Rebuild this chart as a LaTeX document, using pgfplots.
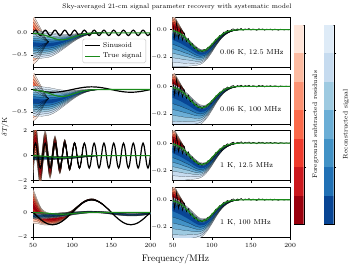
\documentclass[border=0pt]{standalone}
\usepackage{pgfplots}
\pgfplotsset{compat=1.18}
\usepackage{pgfplotstable}
\usepgfplotslibrary{fillbetween}

\definecolor{R1}{HTML}{FEE5D9}\definecolor{R2}{HTML}{FCBBA1}\definecolor{R3}{HTML}{FC9272}
\definecolor{R4}{HTML}{FB6A4A}\definecolor{R5}{HTML}{EF3B2C}\definecolor{R6}{HTML}{CB181D}
\definecolor{R7}{HTML}{99000D}
\definecolor{B1}{HTML}{DEEBF7}\definecolor{B2}{HTML}{C6DBEF}\definecolor{B3}{HTML}{9ECAE1}
\definecolor{B4}{HTML}{6BAED6}\definecolor{B5}{HTML}{4292C6}\definecolor{B6}{HTML}{2171B5}
\definecolor{B7}{HTML}{084594}
\definecolor{TG}{HTML}{1A8A1A}

% true signal g and residual r (right panels)
\pgfplotstableread{
f g r
50 -0.0074 0.053
52.5 -0.0110 -0.061
55 -0.0159 0.054
57.5 -0.0224 -0.062
60 -0.0307 -0.001
62.5 -0.0408 -0.076
65 -0.0529 -0.028
67.5 -0.0666 -0.087
70 -0.0815 -0.064
72.5 -0.0972 -0.112
75 -0.1125 -0.101
77.5 -0.1268 -0.137
80 -0.1390 -0.129
82.5 -0.1482 -0.156
85 -0.1536 -0.147
87.5 -0.1550 -0.161
90 -0.1519 -0.144
92.5 -0.1449 -0.150
95 -0.1344 -0.128
97.5 -0.1213 -0.128
100 -0.1065 -0.102
102.5 -0.0909 -0.095
105 -0.0755 -0.069
107.5 -0.0609 -0.066
110 -0.0478 -0.042
112.5 -0.0366 -0.041
115 -0.0272 -0.019
117.5 -0.0196 -0.017
120 -0.0138 -0.005
122.5 -0.0094 -0.013
125 -0.0063 0.001
127.5 -0.0040 0.006
130 -0.0025 -0.006
132.5 -0.0016 0.006
135 -0.0009 0.001
137.5 -0.0005 0.009
140 -0.0003 -0.004
142.5 0 0.006
145 0 0.001
147.5 0 0.008
150 0 -0.003
152.5 0 0.005
155 0 0.002
157.5 0 -0.005
160 0 0.007
162.5 0 0.001
165 0 0.006
167.5 0 -0.004
170 0 0.004
172.5 0 0.000
175 0 0.005
177.5 0 -0.003
180 0 0.004
182.5 0 0.002
185 0 -0.004
187.5 0 0.003
190 0 0.001
192.5 0 -0.002
195 0 0.002
197.5 0 -0.001
200 0 0.001
}\tabN

% sinusoid, period 12.5 MHz: a = 1 K, b = 0.06 K
\pgfplotstableread{
f a b
50 0 0
51.5625 0.7071 0.0424
53.125 1 0.06
54.6875 0.7071 0.0424
56.25 0 0
57.8125 -0.7071 -0.0424
59.375 -1 -0.06
60.9375 -0.7071 -0.0424
62.5 0 0
64.0625 0.7071 0.0424
65.625 1 0.06
67.1875 0.7071 0.0424
68.75 0 0
70.3125 -0.7071 -0.0424
71.875 -1 -0.06
73.4375 -0.7071 -0.0424
75 0 0
76.5625 0.7071 0.0424
78.125 1 0.06
79.6875 0.7071 0.0424
81.25 0 0
82.8125 -0.7071 -0.0424
84.375 -1 -0.06
85.9375 -0.7071 -0.0424
87.5 0 0
89.0625 0.7071 0.0424
90.625 1 0.06
92.1875 0.7071 0.0424
93.75 0 0
95.3125 -0.7071 -0.0424
96.875 -1 -0.06
98.4375 -0.7071 -0.0424
100 0 0
101.5625 0.7071 0.0424
103.125 1 0.06
104.6875 0.7071 0.0424
106.25 0 0
107.8125 -0.7071 -0.0424
109.375 -1 -0.06
110.9375 -0.7071 -0.0424
112.5 0 0
114.0625 0.7071 0.0424
115.625 1 0.06
117.1875 0.7071 0.0424
118.75 0 0
120.3125 -0.7071 -0.0424
121.875 -1 -0.06
123.4375 -0.7071 -0.0424
125 0 0
126.5625 0.7071 0.0424
128.125 1 0.06
129.6875 0.7071 0.0424
131.25 0 0
132.8125 -0.7071 -0.0424
134.375 -1 -0.06
135.9375 -0.7071 -0.0424
137.5 0 0
139.0625 0.7071 0.0424
140.625 1 0.06
142.1875 0.7071 0.0424
143.75 0 0
145.3125 -0.7071 -0.0424
146.875 -1 -0.06
148.4375 -0.7071 -0.0424
150 0 0
151.5625 0.7071 0.0424
153.125 1 0.06
154.6875 0.7071 0.0424
156.25 0 0
157.8125 -0.7071 -0.0424
159.375 -1 -0.06
160.9375 -0.7071 -0.0424
162.5 0 0
164.0625 0.7071 0.0424
165.625 1 0.06
167.1875 0.7071 0.0424
168.75 0 0
170.3125 -0.7071 -0.0424
171.875 -1 -0.06
173.4375 -0.7071 -0.0424
175 0 0
176.5625 0.7071 0.0424
178.125 1 0.06
179.6875 0.7071 0.0424
181.25 0 0
182.8125 -0.7071 -0.0424
184.375 -1 -0.06
185.9375 -0.7071 -0.0424
187.5 0 0
189.0625 0.7071 0.0424
190.625 1 0.06
192.1875 0.7071 0.0424
193.75 0 0
195.3125 -0.7071 -0.0424
196.875 -1 -0.06
198.4375 -0.7071 -0.0424
200 0 0
}\tabS

% sinusoid, period 100 MHz: a = 1 K, b = 0.06 K
\pgfplotstableread{
f a b
50 0 0
55 -0.309 -0.0185
60 -0.588 -0.0353
65 -0.809 -0.0485
70 -0.951 -0.0571
75 -1 -0.06
80 -0.951 -0.0571
85 -0.809 -0.0485
90 -0.588 -0.0353
95 -0.309 -0.0185
100 0 0
105 0.309 0.0185
110 0.588 0.0353
115 0.809 0.0485
120 0.951 0.0571
125 1 0.06
130 0.951 0.0571
135 0.809 0.0485
140 0.588 0.0353
145 0.309 0.0185
150 0 0
155 -0.309 -0.0185
160 -0.588 -0.0353
165 -0.809 -0.0485
170 -0.951 -0.0571
175 -1 -0.06
180 -0.951 -0.0571
185 -0.809 -0.0485
190 -0.588 -0.0353
195 -0.309 -0.0185
200 0 0
}\tabH

% contour centres c and outer half-widths (w, or u above / l below)
\pgfplotstableread{
f c w
50 -0.15 0.55
52.5 -0.17 0.5
55 -0.19 0.44
57.5 -0.2 0.37
60 -0.2 0.29
62.5 -0.2 0.2
65 -0.2 0.12
67.5 -0.2 0.05
70 -0.2 0.0
}\tabRL
\pgfplotstableread{
f c w
50 -0.25 0.30
55 -0.26 0.305
60 -0.265 0.30
65 -0.265 0.29
70 -0.262 0.28
75 -0.255 0.255
80 -0.238 0.225
85 -0.215 0.19
90 -0.187 0.155
95 -0.155 0.125
100 -0.122 0.095
105 -0.09 0.07
110 -0.062 0.05
115 -0.04 0.033
120 -0.023 0.02
125 -0.012 0.011
130 -0.005 0.005
135 -0.002 0.002
140 0 0
}\tabBL
\pgfplotstableread{
f c w
50 0 1.6
51.5625 0.919 1.5
53.125 1.3 1.4
54.6875 0.919 1.3
56.25 0 1.2
57.8125 -0.919 1.14
59.375 -1.3 1.07
60.9375 -0.919 0.98
62.5 0 0.9
64.0625 0.849 0.86
65.625 1.2 0.82
67.1875 0.849 0.78
68.75 0 0.73
70.3125 -0.849 0.69
71.875 -1.2 0.65
73.4375 -0.849 0.6
75 0 0.57
76.5625 0.778 0.53
78.125 1.1 0.5
79.6875 0.778 0.47
81.25 0 0.44
82.8125 -0.778 0.41
84.375 -1.1 0.38
85.9375 -0.778 0.35
87.5 0 0.32
89.0625 0.742 0.3
90.625 1.05 0.27
92.1875 0.742 0.25
93.75 0 0.23
95.3125 -0.742 0.2
96.875 -1.05 0.18
98.4375 -0.742 0.16
100 0 0.14
101.5625 0.707 0.12
103.125 1 0.1
104.6875 0.707 0.09
106.25 0 0.07
107.8125 -0.707 0.06
109.375 -1 0.045
110.9375 -0.707 0.035
112.5 0 0.02
114.0625 0.707 0.01
115.625 1 0
}\tabRT
\pgfplotstableread{
f c w
50 -0.2 0.16
60 -0.2 0.15
70 -0.2 0.14
80 -0.19 0.13
90 -0.17 0.12
100 -0.14 0.1
110 -0.1 0.07
120 -0.05 0.04
130 -0.02 0.015
140 0 0
}\tabBT
\pgfplotstableread{
f c w
50 0.5 1.4
52.5 0.3 1.2
55 0.1 1.0
57.5 -0.1 0.82
60 -0.3 0.68
62.5 -0.4 0.6
65 -0.48 0.55
67.5 -0.52 0.5
70 -0.55 0.48
72.5 -0.56 0.47
75 -0.56 0.46
77.5 -0.55 0.45
80 -0.52 0.44
82.5 -0.48 0.42
85 -0.43 0.4
87.5 -0.38 0.36
90 -0.32 0.3
92.5 -0.25 0.24
95 -0.17 0.2
97.5 -0.08 0.16
100 0.03 0.13
102.5 0.17 0.11
105 0.32 0.09
107.5 0.46 0.08
110 0.6 0.07
112.5 0.73 0.06
115 0.84 0.06
117.5 0.92 0.06
120 0.98 0.06
122.5 1.02 0.06
125 1.03 0.06
127.5 1.02 0.06
130 0.97 0.05
132.5 0.9 0.05
135 0.82 0.04
137.5 0.71 0.04
140 0.6 0.03
142.5 0.46 0.02
145 0.32 0.01
147.5 0.17 0.0
}\tabRF
\pgfplotstableread{
f c w
50 -0.3 0.2
60 -0.3 0.2
70 -0.28 0.2
80 -0.24 0.18
90 -0.18 0.15
100 -0.1 0.12
110 -0.03 0.1
120 0.02 0.08
130 0.02 0.07
140 -0.01 0.07
150 -0.07 0.09
160 -0.14 0.1
170 -0.19 0.1
180 -0.2 0.1
190 -0.16 0.09
200 -0.08 0.08
}\tabBF
\pgfplotstableread{
f c w
50 0.02 0.08
52.5 0.02 0.075
55 0.01 0.06
57.5 0.0 0.045
60 -0.01 0.03
62.5 -0.02 0.015
65 -0.03 0.0
}\tabRR
\pgfplotstableread{
f c u l
50 -0.04 0.045 0.23
55 -0.055 0.045 0.215
60 -0.07 0.045 0.2
65 -0.09 0.042 0.18
70 -0.11 0.04 0.155
75 -0.133 0.036 0.13
80 -0.155 0.032 0.105
85 -0.17 0.028 0.083
90 -0.171 0.025 0.064
95 -0.157 0.022 0.048
100 -0.13 0.019 0.035
105 -0.096 0.016 0.024
110 -0.064 0.013 0.016
115 -0.038 0.009 0.01
120 -0.021 0.005 0.006
125 -0.01 0.003 0.003
130 -0.004 0.001 0.001
135 -0.001 0 0
}\tabBR

% one contour level: table, k, colour, id, width scale, upper col, lower col
\newcommand{\band}[7]{%
\addplot[forget plot, smooth, draw=none, name path=U#4] table[x=f, y expr={\thisrow{c}+(#2)*(#5)*\thisrow{#6}}]{#1};%
\addplot[forget plot, smooth, draw=none, name path=L#4] table[x=f, y expr={\thisrow{c}-(#2)*(#5)*\thisrow{#7}}]{#1};%
\addplot[forget plot, fill=#3, draw=none] fill between[of=U#4 and L#4];%
}
% contour lines: table, k, width scale, upper col, lower col
\newcommand{\cln}[5]{%
\addplot[forget plot, smooth, black, line width=0.2pt, opacity=0.7] table[x=f, y expr={\thisrow{c}+(#2)*(#3)*\thisrow{#4}}]{#1};%
\addplot[forget plot, smooth, black, line width=0.2pt, opacity=0.7] table[x=f, y expr={\thisrow{c}-(#2)*(#3)*\thisrow{#5}}]{#1};%
}
% all seven levels: table, id, width scale, palette letter, upper col, lower col
\newcommand{\fullband}[6]{%
\band{#1}{1}{#41}{#2a}{#3}{#5}{#6}%
\band{#1}{0.857}{#42}{#2b}{#3}{#5}{#6}%
\band{#1}{0.714}{#43}{#2c}{#3}{#5}{#6}%
\band{#1}{0.571}{#44}{#2d}{#3}{#5}{#6}%
\band{#1}{0.429}{#45}{#2e}{#3}{#5}{#6}%
\band{#1}{0.286}{#46}{#2f}{#3}{#5}{#6}%
\band{#1}{0.143}{#47}{#2g}{#3}{#5}{#6}%
\cln{#1}{1}{#3}{#5}{#6}\cln{#1}{0.857}{#3}{#5}{#6}\cln{#1}{0.714}{#3}{#5}{#6}%
\cln{#1}{0.571}{#3}{#5}{#6}\cln{#1}{0.429}{#3}{#5}{#6}\cln{#1}{0.286}{#3}{#5}{#6}%
}

\pgfplotsset{
 panel/.style={scale only axis, width=117.4pt, height=49.8pt, xmin=50, xmax=200,
  xtick={50,100,150,200}, xticklabels={}, xtick pos=left, ytick pos=left,
  tick align=outside, major tick length=2.5pt,
  every tick/.style={black, line width=0.4pt}, axis line style={line width=0.5pt},
  tick label style={font=\fontsize{6.3}{7}\selectfont}, anchor=south west},
 smallk/.style={ymin=-0.76, ymax=0.345, ytick={-0.5,0},
  yticklabel style={/pgf/number format/.cd, fixed, fixed zerofill, precision=1}},
 bigk/.style={ymin=-2, ymax=2, ytick={-2,0,2}},
 rightp/.style={ymin=-0.272, ymax=0.09, ytick={-0.2,0},
  yticklabel style={/pgf/number format/.cd, fixed, fixed zerofill, precision=1}},
 bottom/.style={xticklabels={50,100,150,200}},
 cbar/.style={scale only axis, anchor=south west, width=9.7pt, height=199pt,
  xmin=0, xmax=1, ymin=0, ymax=3.5, xtick=\empty, ytick={1,2,3}, yticklabels={},
  ytick pos=right, tick align=outside, major tick length=2.5pt,
  every tick/.style={black, line width=0.4pt}, axis line style={line width=0.4pt}},
}
\newcommand{\ann}[1]{\node[anchor=west, inner sep=0pt, font=\fontsize{7.2}{8}\selectfont] at (rel axis cs:0.403,0.29) {#1};}

\begin{document}
\begin{tikzpicture}[x=1pt,y=1pt]
\path (0,0) rectangle (350,265);

% ---------- left column ----------
\begin{axis}[panel, smallk, at={(33pt,197.9pt)},
  legend style={at={(0.963,0.082)}, anchor=south east, font=\fontsize{7}{8}\selectfont,
   draw=black!25, rounded corners=1.5pt, fill=white, fill opacity=0.8, text opacity=1,
   inner xsep=2pt, inner ysep=1.5pt, cells={anchor=west}},
  legend image code/.code={\draw[#1] (0pt,0pt) -- (15pt,0pt);}]
\fullband{\tabRL}{pa}{1}{R}{w}{w}
\fullband{\tabBL}{pb}{1}{B}{w}{w}
\addplot[smooth, black, line width=1.2pt] table[x=f, y=b]{\tabS};
\addlegendentry{Sinusoid}
\addplot[TG, line width=1.1pt] table[x=f, y=g]{\tabN};
\addlegendentry{True signal}
\end{axis}

\begin{axis}[panel, smallk, at={(33pt,141.2pt)}]
\fullband{\tabRL}{qa}{1}{R}{w}{w}
\fullband{\tabBL}{qb}{1.1}{B}{w}{w}
\addplot[smooth, black, line width=1.2pt] table[x=f, y=b]{\tabH};
\addplot[TG, line width=1.1pt] table[x=f, y=g]{\tabN};
\end{axis}

\begin{axis}[panel, bigk, at={(33pt,84.5pt)}]
\fullband{\tabRT}{ra}{1}{R}{w}{w}
\fullband{\tabBT}{rb}{1}{B}{w}{w}
\addplot[smooth, black, line width=1.2pt] table[x=f, y=a]{\tabS};
\addplot[TG, line width=1.1pt] table[x=f, y=g]{\tabN};
\end{axis}

\begin{axis}[panel, bigk, bottom, at={(33pt,27.8pt)}]
\fullband{\tabRF}{sa}{1}{R}{w}{w}
\fullband{\tabBF}{sb}{1}{B}{w}{w}
\addplot[smooth, black, line width=1.2pt] table[x=f, y=a]{\tabH};
\addplot[TG, line width=1.1pt] table[x=f, y=g]{\tabN};
\end{axis}

% ---------- right column ----------
\begin{axis}[panel, rightp, at={(172.7pt,197.9pt)}]
\fullband{\tabRR}{ta}{1}{R}{w}{w}
\fullband{\tabBR}{tb}{1}{B}{u}{l}
\addplot[black, line width=0.6pt] table[x=f, y=r]{\tabN};
\addplot[TG, line width=1.1pt] table[x=f, y=g]{\tabN};
\ann{0.06 K, 12.5 MHz}
\end{axis}

\begin{axis}[panel, rightp, at={(172.7pt,141.2pt)}]
\fullband{\tabRR}{ua}{1}{R}{w}{w}
\fullband{\tabBR}{ub}{1.3}{B}{u}{l}
\addplot[black, line width=0.6pt] table[x=f, y=r]{\tabN};
\addplot[TG, line width=1.1pt] table[x=f, y=g]{\tabN};
\ann{0.06 K, 100 MHz}
\end{axis}

\begin{axis}[panel, rightp, at={(172.7pt,84.5pt)}]
\fullband{\tabRR}{va}{1}{R}{w}{w}
\fullband{\tabBR}{vb}{1}{B}{u}{l}
\addplot[black, line width=0.6pt] table[x=f, y=r]{\tabN};
\addplot[TG, line width=1.1pt] table[x=f, y=g]{\tabN};
\ann{1 K, 12.5 MHz}
\end{axis}

\begin{axis}[panel, rightp, bottom, at={(172.7pt,27.8pt)}]
\fullband{\tabRR}{wa}{1}{R}{w}{w}
\fullband{\tabBR}{wb}{1.3}{B}{u}{l}
\addplot[black, line width=0.6pt] table[x=f, y=r]{\tabN};
\addplot[TG, line width=1.1pt] table[x=f, y=g]{\tabN};
\ann{1 K, 100 MHz}
\end{axis}

% ---------- colour bars ----------
\begin{axis}[cbar, at={(294pt,41pt)}]
\addplot[fill=R7, draw=none] coordinates {(0,0)(1,0)(1,0.5)(0,0.5)};
\addplot[fill=R6, draw=none] coordinates {(0,0.5)(1,0.5)(1,1)(0,1)};
\addplot[fill=R5, draw=none] coordinates {(0,1)(1,1)(1,1.5)(0,1.5)};
\addplot[fill=R4, draw=none] coordinates {(0,1.5)(1,1.5)(1,2)(0,2)};
\addplot[fill=R3, draw=none] coordinates {(0,2)(1,2)(1,2.5)(0,2.5)};
\addplot[fill=R2, draw=none] coordinates {(0,2.5)(1,2.5)(1,3)(0,3)};
\addplot[fill=R1, draw=none] coordinates {(0,3)(1,3)(1,3.5)(0,3.5)};
\end{axis}
\begin{axis}[cbar, at={(324pt,41pt)}]
\addplot[fill=B7, draw=none] coordinates {(0,0)(1,0)(1,0.5)(0,0.5)};
\addplot[fill=B6, draw=none] coordinates {(0,0.5)(1,0.5)(1,1)(0,1)};
\addplot[fill=B5, draw=none] coordinates {(0,1)(1,1)(1,1.5)(0,1.5)};
\addplot[fill=B4, draw=none] coordinates {(0,1.5)(1,1.5)(1,2)(0,2)};
\addplot[fill=B3, draw=none] coordinates {(0,2)(1,2)(1,2.5)(0,2.5)};
\addplot[fill=B2, draw=none] coordinates {(0,2.5)(1,2.5)(1,3)(0,3)};
\addplot[fill=B1, draw=none] coordinates {(0,3)(1,3)(1,3.5)(0,3.5)};
\end{axis}

% ---------- texts ----------
\node[font=\fontsize{6.6}{8}\selectfont] at (177,258.5) {Sky-averaged 21-cm signal parameter recovery with systematic model};
\node[font=\fontsize{9.5}{11}\selectfont] at (175.5,6) {Frequency/MHz};
\node[rotate=90, font=\fontsize{7.5}{9}\selectfont] at (5,138) {$\delta T/\mathrm{K}$};
\node[rotate=90, font=\fontsize{6.7}{8}\selectfont] at (315.5,140.5) {Foreground subtracted residuals};
\node[rotate=90, font=\fontsize{6.7}{8}\selectfont] at (346,140.5) {Reconstructed signal};
\pgfresetboundingbox
\path[use as bounding box] (0,0) rectangle (350,265);
\end{tikzpicture}
\end{document}
